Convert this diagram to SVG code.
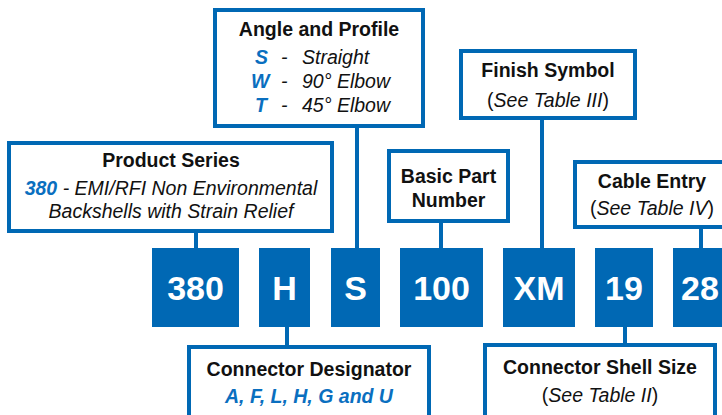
<svg xmlns="http://www.w3.org/2000/svg" width="722" height="415" viewBox="0 0 722 415">
<style>
.box{fill:#ffffff;stroke:#0068B4;stroke-width:4}
.code{fill:#0068B4}
.ct{font-family:"Liberation Sans",Arial,sans-serif;font-weight:bold;font-size:34px;fill:#ffffff;text-anchor:middle}
.t{font-family:"Liberation Sans",Arial,sans-serif;font-weight:bold;font-size:19.5px;fill:#111111;text-anchor:middle}
.b{font-family:"Liberation Sans",Arial,sans-serif;font-style:italic;font-size:19.5px;fill:#111111}
.bn{font-family:"Liberation Sans",Arial,sans-serif;font-style:normal;font-size:19.5px;fill:#111111}
.hl{fill:#0A6FBF;font-weight:bold;font-style:italic}
.line{stroke:#0068B4;stroke-width:4;fill:none}
</style>
<rect width="722" height="415" fill="#ffffff"/>
<g id="connectors">
<line class="line" x1="196" y1="231" x2="196" y2="250"/>
<line class="line" x1="357" y1="126" x2="357" y2="250"/>
<line class="line" x1="441" y1="221" x2="441" y2="250"/>
<line class="line" x1="542" y1="118" x2="542" y2="250"/>
<line class="line" x1="701" y1="227" x2="701" y2="250"/>
<line class="line" x1="287" y1="325" x2="287" y2="347"/>
<line class="line" x1="625" y1="325" x2="625" y2="345"/>
</g>
<g id="code-380"><rect class="code" x="152" y="248" width="87" height="79"/><text class="ct" x="195.5" y="300">380</text></g>
<g id="code-H"><rect class="code" x="259" y="248" width="51" height="79"/><text class="ct" x="284.5" y="300">H</text></g>
<g id="code-S"><rect class="code" x="331" y="248" width="49" height="79"/><text class="ct" x="355.5" y="300">S</text></g>
<g id="code-100"><rect class="code" x="400" y="248" width="83" height="79"/><text class="ct" x="441.5" y="300">100</text></g>
<g id="code-XM"><rect class="code" x="503" y="248" width="72" height="79"/><text class="ct" x="539" y="300">XM</text></g>
<g id="code-19"><rect class="code" x="595" y="248" width="58" height="79"/><text class="ct" x="624" y="300">19</text></g>
<g id="code-28"><rect class="code" x="673" y="248" width="60" height="79"/><text class="ct" x="700" y="300">28</text></g>
<g id="product-series">
<rect class="box" x="9" y="143" width="323" height="88"/>
<text class="t" x="171" y="167">Product Series</text>
<text class="b" x="171" y="195" text-anchor="middle"><tspan class="hl">380</tspan> - EMI/RFI Non Environmental</text>
<text class="b" x="171" y="218" text-anchor="middle">Backshells with Strain Relief</text>
</g>
<g id="angle-profile">
<rect class="box" x="215" y="10" width="208" height="116"/>
<text class="t" x="319" y="36">Angle and Profile</text>
<text class="b hl" x="255" y="64">S</text><text class="b" x="281" y="64">-</text><text class="b" x="302" y="64">Straight</text>
<text class="b hl" x="251" y="88">W</text><text class="b" x="281" y="88">-</text><text class="b" x="302" y="88">90° Elbow</text>
<text class="b hl" x="255" y="112">T</text><text class="b" x="281" y="112">-</text><text class="b" x="302" y="112">45° Elbow</text>
</g>
<g id="basic-part">
<rect class="box" x="389" y="151" width="119" height="70"/>
<text class="t" x="448.5" y="183">Basic Part</text>
<text class="t" x="448.5" y="207">Number</text>
</g>
<g id="finish-symbol">
<rect class="box" x="461" y="51" width="174" height="67"/>
<text class="t" x="548" y="77">Finish Symbol</text>
<text class="bn" x="548" y="107" text-anchor="middle">(<tspan font-style="italic">See Table III</tspan>)</text>
</g>
<g id="cable-entry">
<rect class="box" x="575" y="162" width="170" height="65"/>
<text class="t" x="652" y="188">Cable Entry</text>
<text class="bn" x="652" y="215" text-anchor="middle">(<tspan font-style="italic">See Table IV</tspan>)</text>
</g>
<g id="connector-designator">
<rect class="box" x="189" y="347" width="240" height="80"/>
<text class="t" x="309" y="376">Connector Designator</text>
<text class="b hl" x="309" y="403" text-anchor="middle">A, F, L, H, G and U</text>
</g>
<g id="shell-size">
<rect class="box" x="485" y="345" width="230" height="80"/>
<text class="t" x="600" y="374">Connector Shell Size</text>
<text class="bn" x="600" y="402" text-anchor="middle">(<tspan font-style="italic">See Table II</tspan>)</text>
</g>
</svg>
